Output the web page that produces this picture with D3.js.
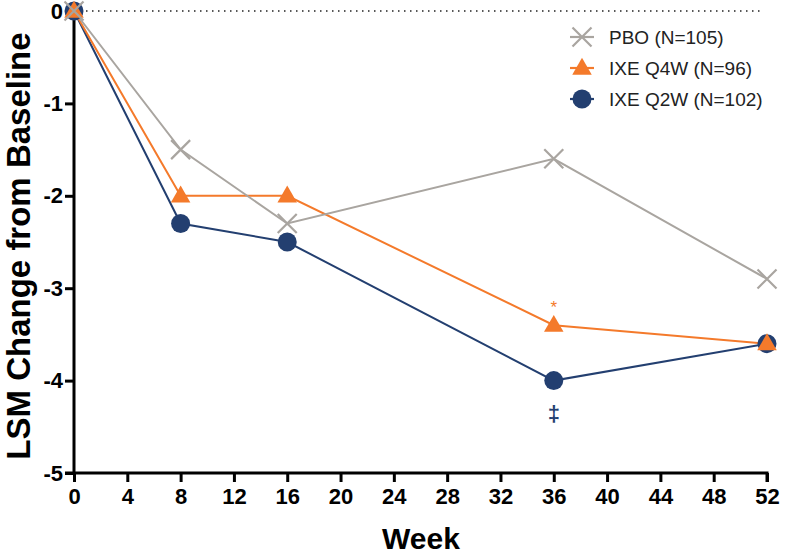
<!DOCTYPE html>
<html><head><meta charset="utf-8">
<script src="https://cdn.jsdelivr.net/npm/d3@7"></script>
<style>body{margin:0;background:#fff}svg{display:block}</style>
</head><body><svg id="c" width="787" height="556"></svg>
<script>
const weeks = [0, 8, 16, 36, 52];
const pbo = [0, -1.5, -2.3, -1.6, -2.9];
const q4w = [0, -2.0, -2.0, -3.4, -3.6];
const q2w = [0, -2.3, -2.5, -4.0, -3.6];
const xTicks = [0,4,8,12,16,20,24,28,32,36,40,44,48,52];
const yTicks = [0,-1,-2,-3,-4,-5];
const seriesNames = ["PBO (N=105)", "IXE Q4W (N=96)", "IXE Q2W (N=102)"];
const colors = ["#a9a5a0", "#f47a2b", "#233f70"];

const svg = d3.select("#c");
const x = d3.scaleLinear().domain([0,52]).range([74,767]);
const y = d3.scaleLinear().domain([0,-5]).range([11,473]);
const font = "Liberation Sans, Arial, sans-serif";

// zero dotted line
svg.append("line").attr("x1",x(0)).attr("x2",x(52)-3).attr("y1",y(0)).attr("y2",y(0))
  .attr("stroke","#222").attr("stroke-width",1.6).attr("stroke-dasharray","1.5,4.5");

// axes
const xa = svg.append("g").attr("transform",`translate(0,${y(-5)})`)
  .call(d3.axisBottom(x).tickValues(xTicks).tickSize(9).tickPadding(6));
const ya = svg.append("g").attr("transform",`translate(${x(0)},0)`)
  .call(d3.axisLeft(y).tickValues(yTicks).tickSize(9).tickPadding(2)
    .tickFormat(d => d === 0 ? "0" : "-" + Math.abs(d)));
[xa,ya].forEach(a=>{
  a.attr("font-family",null).attr("font-size",null);
  a.select(".domain").attr("stroke","#000").attr("stroke-width",3);
  a.selectAll(".tick line").attr("stroke","#000").attr("stroke-width",3);
  a.selectAll(".tick text").attr("fill","#000").attr("font-family",font)
   .attr("font-size","22px").attr("font-weight","bold");
});
ya.select(".domain").attr("d",`M-9,${y(-5)}H0V${y(0)}`);
xa.select(".domain").attr("d",`M${x(0)},0H${x(52)}V9`);

// axis titles
svg.append("text").attr("x",421).attr("y",549).attr("text-anchor","middle")
  .attr("font-family",font).attr("font-size","30px").attr("font-weight","bold").text("Week");
svg.append("text").attr("transform",`translate(30,246) rotate(-90)`).attr("text-anchor","middle")
  .attr("font-family",font).attr("font-size","33px").attr("font-weight","bold").text("LSM Change from Baseline");

const line = d3.line().x((d,i)=>x(weeks[i])).y(d=>y(d));
const data = [pbo,q4w,q2w];

function marker(g, type, cx, cy, col){
  if(type===0){
    const s=9.5;
    g.append("path").attr("d",`M${cx-s},${cy-s}L${cx+s},${cy+s}M${cx-s},${cy+s}L${cx+s},${cy-s}`)
      .attr("stroke",col).attr("stroke-width",2.2).attr("fill","none");
  } else if(type===1){
    g.append("path").attr("d",d3.symbol().type(d3.symbolTriangle).size(165)())
      .attr("transform",`translate(${cx},${cy+1})`).attr("fill",col);
  } else {
    g.append("circle").attr("cx",cx).attr("cy",cy).attr("r",9.5).attr("fill",col);
  }
}

// lines then markers
[2,1,0].forEach(k=>{
  svg.append("path").datum(data[k]).attr("d",line).attr("fill","none")
    .attr("stroke",colors[k]).attr("stroke-width",2);
});
[2,1,0].forEach(k=>{
  const g = svg.append("g");
  data[k].forEach((v,i)=>marker(g,k,x(weeks[i]),y(v),colors[k]));
});

// annotations
svg.append("text").attr("x",x(36)).attr("y",y(q4w[3])-12).attr("text-anchor","middle")
  .attr("fill",colors[1]).attr("font-family",font).attr("font-size","17px").text("*");
svg.append("text").attr("x",x(36)).attr("y",y(q2w[3])+40).attr("text-anchor","middle")
  .attr("fill",colors[2]).attr("font-family",font).attr("font-size","22px").attr("font-weight","bold").text("‡");

// legend
const lg = svg.append("g");
seriesNames.forEach((n,k)=>{
  const cy = 37 + k*31;
  lg.append("line").attr("x1",570).attr("x2",594).attr("y1",cy).attr("y2",cy)
    .attr("stroke",colors[k]).attr("stroke-width",2.2);
  marker(lg,k,582,cy,colors[k]);
  lg.append("text").attr("x",609).attr("y",cy+7).attr("fill","#222")
    .attr("font-family",font).attr("font-size","19px").text(n);
});
</script></body></html>
